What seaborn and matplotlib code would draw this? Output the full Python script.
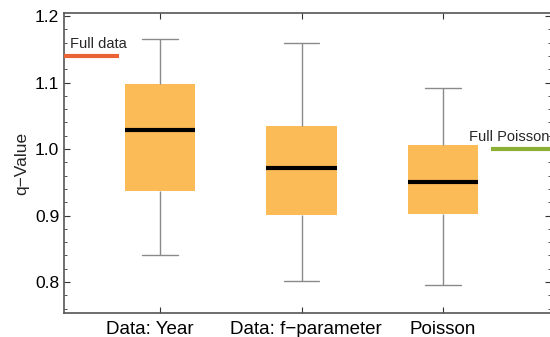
import numpy as np
import pandas as pd
import matplotlib
matplotlib.use("Agg")
import matplotlib.pyplot as plt
import matplotlib.transforms as mtransforms
import seaborn as sns
from matplotlib.ticker import MultipleLocator

# five-number summaries (min, Q1, median, Q3, max)
categories = ["Data: Year", "Data: f\u2212parameter", "Poisson"]
year_vals = [0.840, 0.937, 1.029, 1.098, 1.166]
fparam_vals = [0.801, 0.901, 0.971, 1.034, 1.159]
poisson_vals = [0.795, 0.902, 0.950, 1.006, 1.092]

full_data_q = 1.14
full_poisson_q = 1.00

df = pd.DataFrame({
    "group": [categories[0]] * 5 + [categories[1]] * 5 + [categories[2]] * 5,
    "q": year_vals + fparam_vals + poisson_vals,
})

sns.set_style("ticks")
plt.rcParams["font.family"] = ["Liberation Sans", "DejaVu Sans"]

fig = plt.figure(figsize=(5.5, 3.37), dpi=100)
ax = fig.add_axes([0.1164, 0.0712, 0.8856, 0.8902])

box_col = "#FBBC57"
sns.boxplot(data=df, x="group", y="q", ax=ax, whis=(0, 100), width=0.5,
            showfliers=False, color=box_col, linewidth=1,
            boxprops=dict(facecolor=box_col, edgecolor=box_col, linewidth=0),
            whiskerprops=dict(color="#8a8a8a", linewidth=1),
            capprops=dict(color="#8a8a8a", linewidth=1),
            medianprops=dict(color="black", linewidth=3))

ax.set_xlim(-0.678, 2.763)
ax.set_ylim(0.7534, 1.2045)

# reference lines for the full data sets
ax.hlines(full_data_q, -0.678, -0.29, color="#EB6234", linewidth=3, zorder=5)
ax.text(-0.635, full_data_q + 0.008, "Full data", fontsize=10.5, va="bottom", ha="left")
ax.hlines(full_poisson_q, 2.339, 2.763, color="#8CB035", linewidth=3, zorder=5)
ax.text(2.18, full_poisson_q + 0.008, "Full Poisson", fontsize=10.5, va="bottom", ha="left")

ax.set_xlabel("")
ax.set_ylabel("q\u2212Value", fontsize=12.5)
ax.yaxis.set_major_locator(MultipleLocator(0.1))
ax.yaxis.set_minor_locator(MultipleLocator(0.02))
ax.tick_params(axis="both", which="both", direction="in", top=True, right=True,
               colors="#333333", labelcolor="black")
ax.tick_params(axis="y", which="major", length=4, labelsize=12.5)
ax.tick_params(axis="y", which="minor", length=2)
ax.tick_params(axis="x", length=4, pad=6, labelsize=13.5)
for s in ax.spines.values():
    s.set_color("#555555")
    s.set_linewidth(1.2)

# category labels sit a little off their ticks in the original
shifts = [-10, 4, 0]
for lab, dx in zip(ax.get_xticklabels(), shifts):
    lab.set_transform(lab.get_transform() +
                      mtransforms.ScaledTranslation(dx / 100, 0, fig.dpi_scale_trans))

fig.savefig("out.png", dpi=100)
